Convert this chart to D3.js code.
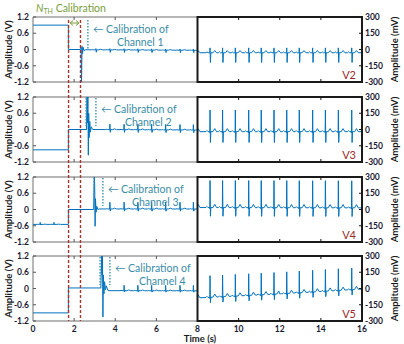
<!DOCTYPE html>
<html><head><meta charset="utf-8">
<script src="https://cdn.jsdelivr.net/npm/d3@7"></script>
<style>body{margin:0;background:#fff} svg{display:block}</style>
</head><body><svg id="c" width="404" height="344"></svg>
<script>
// ---------------- data ----------------
const channels = ["V2", "V3", "V4", "V5"];
const channelNames = ["Channel 1", "Channel 2", "Channel 3", "Channel 4"];
const xTicks = [0, 2, 4, 6, 8, 10, 12, 14, 16];
const leftTicks = [1.2, 0.6, 0, -0.6, -1.2];          // V
const leftTickLabels = ["1.2", "0.6", "0", "-0.6", "-1.2"];
const rightTicks = [300, 150, 0, -150, -300];          // mV
const preLevel = [0.9, -0.75, -0.55, -0.9];            // V before N_TH step
const preECGScale = [0, 0, 0.3, 0];                    // ECG visible before step
const stepTime = 1.72;
const stepLevel = [0, 0, 0, 0.02];                     // V after step
// calibration transients (t in s, value in V)
const calib1 = [[2.30,0],[2.34,0.06],[2.36,-1.22],[2.385,0.12],[2.41,-0.15],[2.44,0.08],[2.48,-0.04],[2.55,-0.01]];
const calib2 = [[2.60,0],[2.63,1.3],[2.65,0.25],[2.67,1.2],[2.69,-0.95],[2.71,0.6],[2.73,-0.3],[2.76,0.3],[2.79,-0.1],[2.83,0.1],[2.90,0]];
const calib3 = [[2.95,0],[2.98,1.3],[3.00,0.9],[3.02,-0.62],[3.04,0.4],[3.07,-0.1],[3.10,0.12],[3.15,0.0],[3.22,0.02]];
const calib4 = [[3.30,0.02],[3.34,1.3],[3.36,0.5],[3.38,1.2],[3.40,-1.05],[3.42,0.5],[3.45,-0.2],[3.48,0.25],[3.52,-0.05],[3.56,0.1],[3.65,-0.08]];
const calibs = [calib1, calib2, calib3, calib4];
// R-peak times (s)
const beatTimes = [0.35, 1.02, 3.06, 3.74, 4.43, 5.10, 5.77, 6.45, 7.15, 7.80, 8.61, 9.22, 9.84, 10.49,
                   11.10, 11.72, 12.34, 12.95, 13.60, 14.22, 14.85, 15.50];
// beat wave shape: offsets (s) and wave names
const beatOffsets = [-0.20, -0.15, -0.10, -0.03, -0.012, 0, 0.018, 0.04, 0.14, 0.23, 0.32];
const beatWaves   = ["0", "P", "0", "0", "Q", "R", "S", "0", "0", "T", "0"];
// per-channel wave amplitudes (mV)
const ampP = [8, 10, 10, 10];
const ampQ = [0, -10, -10, -10];
const ampR = [45, 200, 250, 200];
const ampS = [-90, -100, -80, -50];
const ampT = [20, 28, 30, 28];
// ECG baselines (t s, mV)
const baseline1 = [[2.5, -10], [8, -30], [16, -30]];
const baseline2 = [[2.9, 0], [8, -20], [16, -20]];
const baseline3 = [[3.2, 20], [16, 15]];
const baseline4 = [[3.65, -80], [8, -87], [12, -50], [16, -5]];
const baselines = [baseline1, baseline2, baseline3, baseline4];
// annotation lines (s)
const nthLines = [1.73, 2.31];
const calLines = [[2.67], [2.58, 3.06], [2.97, 3.40], [3.26, 3.74]];

// ---------------- layout ----------------
const svg = d3.select("#c");
const FONT = "Lato, 'Open Sans', sans-serif";
const xL = 33, xM = 197.5, xR = 362;
const tops = [17, 97, 177, 256];
const H = 65;
const lineColor = "#0072BD";
const tickColor = "#1a1a33";

const x = d3.scaleLinear().domain([0, 16]).range([xL, xR]);

const defs = svg.append("defs");

function waveAmp(c, w) {
  return w === "P" ? ampP[c] : w === "Q" ? ampQ[c] : w === "R" ? ampR[c] : w === "S" ? ampS[c] : w === "T" ? ampT[c] : 0;
}

function buildSeries(c) {
  const pts = [];
  const pre = preLevel[c] * 1000;
  pts.push([0, pre]);
  if (preECGScale[c] > 0) {
    beatTimes.filter(b => b + 0.35 < stepTime).forEach(b => {
      beatOffsets.forEach((o, i) => pts.push([b + o, pre + preECGScale[c] * waveAmp(c, beatWaves[i])]));
    });
  }
  pts.push([stepTime, pre]);
  pts.push([stepTime, stepLevel[c] * 1000]);
  calibs[c].forEach(p => pts.push([p[0], p[1] * 1000]));
  const calEnd = calibs[c][calibs[c].length - 1][0];
  const bl = d3.scaleLinear().domain(baselines[c].map(d => d[0])).range(baselines[c].map(d => d[1])).clamp(true);
  baselines[c].forEach(k => { if (k[0] > calEnd) pts.push([k[0], k[1]]); });
  beatTimes.filter(b => b - 0.2 > calEnd).forEach(b => {
    beatOffsets.forEach((o, i) => pts.push([b + o, bl(b + o) + waveAmp(c, beatWaves[i])]));
  });
  pts.push([16, bl(16)]);
  const head = pts.filter(p => p[0] <= calEnd);
  const tail = pts.filter(p => p[0] > calEnd).sort((a, b) => a[0] - b[0]);
  return head.concat(tail);
}

channels.forEach((name, c) => {
  const top = tops[c], bot = top + H;
  const yL = d3.scaleLinear().domain([-1.2, 1.2]).range([bot, top]);
  const yR = d3.scaleLinear().domain([-300, 300]).range([bot, top]);
  const series = buildSeries(c);

  defs.append("clipPath").attr("id", "cl" + c).append("rect")
    .attr("x", xL).attr("y", top).attr("width", xM - xL).attr("height", H);
  defs.append("clipPath").attr("id", "cr" + c).append("rect")
    .attr("x", xM).attr("y", top).attr("width", xR - xM).attr("height", H);

  const g = svg.append("g");
  // left frame (gray)
  g.append("path").attr("d", `M${xM},${top}H${xL}V${bot}H${xM}`)
    .attr("fill", "none").attr("stroke", "#6e6e6e").attr("stroke-width", 1);

  // left signal (V)
  g.append("path").datum(series)
    .attr("clip-path", `url(#cl${c})`)
    .attr("fill", "none").attr("stroke", lineColor).attr("stroke-width", 1)
    .attr("d", d3.line().x(d => x(d[0])).y(d => yL(d[1] / 1000)));
  // right signal (mV)
  g.append("path").datum(series.filter(d => d[0] >= 7.5))
    .attr("clip-path", `url(#cr${c})`)
    .attr("fill", "none").attr("stroke", lineColor).attr("stroke-width", 1)
    .attr("d", d3.line().x(d => x(d[0])).y(d => yR(d[1])));

  // x ticks (inward) top & bottom
  xTicks.filter(t => t > 0 && t < 16 && t !== 8).forEach(t => {
    const col = t < 8 ? "#555" : "#111";
    g.append("line").attr("x1", x(t)).attr("x2", x(t)).attr("y1", top).attr("y2", top + 3).attr("stroke", col);
    g.append("line").attr("x1", x(t)).attr("x2", x(t)).attr("y1", bot).attr("y2", bot - 3).attr("stroke", col);
  });
  // left y axis ticks + labels
  leftTicks.forEach((v, i) => {
    g.append("line").attr("x1", xL).attr("x2", xL + 3).attr("y1", yL(v)).attr("y2", yL(v)).attr("stroke", "#555");
    g.append("text").attr("x", xL - 4).attr("y", yL(v) + 3)
      .attr("text-anchor", "end").attr("font-family", FONT).attr("font-weight", "bold")
      .attr("font-size", 8.5).attr("fill", tickColor).text(leftTickLabels[i]);
  });
  // right y axis ticks + labels
  rightTicks.forEach(v => {
    g.append("line").attr("x1", xR).attr("x2", xR - 3).attr("y1", yR(v)).attr("y2", yR(v)).attr("stroke", "#111");
    g.append("text").attr("x", xR + 3).attr("y", yR(v) + 3)
      .attr("text-anchor", "start").attr("font-family", FONT).attr("font-weight", "bold")
      .attr("font-size", 8.5).attr("fill", tickColor).text(v);
  });
  // right box (black)
  g.append("rect").attr("x", xM).attr("y", top).attr("width", xR - xM).attr("height", H)
    .attr("fill", "none").attr("stroke", "#1a1a1a").attr("stroke-width", 2);

  // axis titles
  g.append("text").attr("transform", `translate(12,${top + H / 2}) rotate(-90)`)
    .attr("text-anchor", "middle").attr("font-family", FONT).attr("font-weight", "bold")
    .attr("font-size", 9.5).attr("fill", "#1a1a1a").text("Amplitude (V)");
  g.append("text").attr("transform", `translate(398,${top + H / 2}) rotate(-90)`)
    .attr("text-anchor", "middle").attr("font-family", FONT).attr("font-weight", "bold")
    .attr("font-size", 9.5).attr("fill", "#1a1a1a").text("Amplitude (mV)");

  // channel label
  g.append("text").attr("x", xR - 6).attr("y", bot - 3)
    .attr("text-anchor", "end").attr("font-family", FONT)
    .attr("font-size", 11).attr("fill", "#9b2a2a").text(name);

  // calibration dotted lines
  calLines[c].forEach(t => {
    g.append("line").attr("x1", x(t)).attr("x2", x(t)).attr("y1", top + (c === 0 ? 3 : 1)).attr("y2", top + (c === 0 ? 33 : 29))
      .attr("stroke", "#2f8cab").attr("stroke-width", 1.3).attr("stroke-dasharray", "1.5,1.5");
  });
  // calibration text
  const tx = x(d3.max(calLines[c])) + 5;
  const calTxt = g.append("text").attr("font-family", FONT).attr("font-size", 10.5).attr("fill", "#3a8ca6");
  calTxt.append("tspan").attr("x", tx).attr("y", top + 16).text("\u2190 Calibration of");
  calTxt.append("tspan").attr("x", tx + 24).attr("y", top + 29).text(channelNames[c]);
});

// x tick labels
xTicks.forEach(t => {
  svg.append("text").attr("x", x(t)).attr("y", 332).attr("text-anchor", "middle")
    .attr("font-family", FONT).attr("font-weight", "bold").attr("font-size", 8.5)
    .attr("fill", tickColor).text(t);
});
svg.append("text").attr("x", 200).attr("y", 342).attr("text-anchor", "middle")
  .attr("font-family", FONT).attr("font-weight", "bold").attr("font-size", 9.5)
  .attr("fill", "#1a1a1a").text("Time (s)");

// N_TH red dashed lines
nthLines.forEach(t => {
  svg.append("line").attr("x1", x(t)).attr("x2", x(t)).attr("y1", 20).attr("y2", tops[3] + H)
    .attr("stroke", "#a8322d").attr("stroke-width", 1.4).attr("stroke-dasharray", "3,2");
});
// N_TH double arrow
const ax1 = x(nthLines[0]) + 1.5, ax2 = x(nthLines[1]) - 1.5, ay = 23;
svg.append("path").attr("d", `M${ax1},${ay}H${ax2}M${ax1 + 3},${ay - 2.5}L${ax1},${ay}L${ax1 + 3},${ay + 2.5}M${ax2 - 3},${ay - 2.5}L${ax2},${ay}L${ax2 - 3},${ay + 2.5}`)
  .attr("fill", "none").attr("stroke", "#7a9e3c").attr("stroke-width", 1);
// N_TH title
const nt = svg.append("text").attr("x", 36).attr("y", 12).attr("font-family", FONT)
  .attr("font-size", 10.5).attr("fill", "#7a9e3c");
nt.append("tspan").attr("font-style", "italic").text("N");
nt.append("tspan").attr("font-size", 7).attr("dy", 2).text("TH");
nt.append("tspan").attr("dy", -2).text(" Calibration");
</script></body></html>
